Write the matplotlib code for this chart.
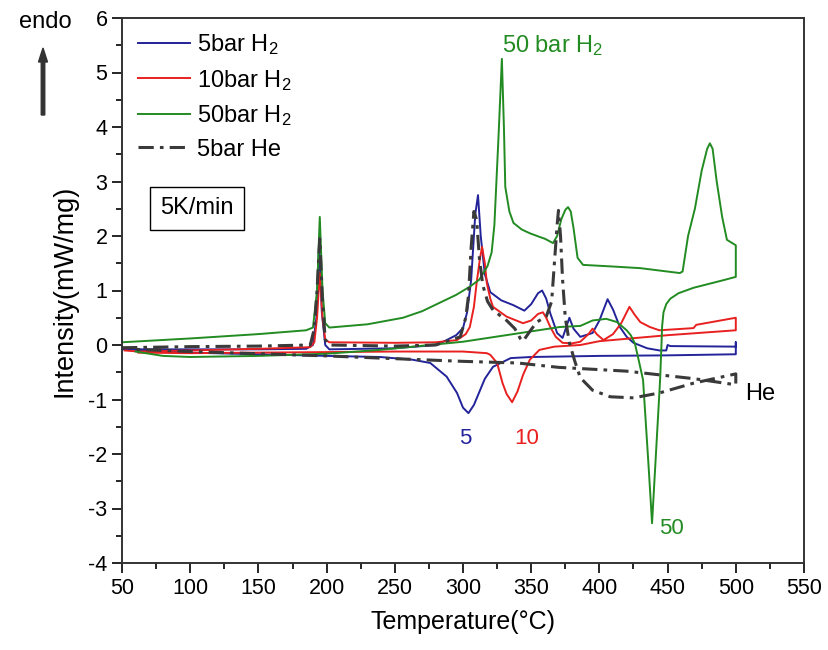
import matplotlib
matplotlib.use("Agg")
import matplotlib.pyplot as plt
from matplotlib import font_manager

names = {f.name for f in font_manager.fontManager.ttflist}
FONT = "Liberation Sans" if "Liberation Sans" in names else "DejaVu Sans"
plt.rcParams["font.family"] = [FONT, "DejaVu Sans"]
plt.rcParams["mathtext.fontset"] = "custom"
plt.rcParams["mathtext.rm"] = FONT
plt.rcParams["mathtext.it"] = FONT
plt.rcParams["mathtext.bf"] = FONT
plt.rcParams["axes.unicode_minus"] = False

# ---------------- data (Temperature °C, Intensity mW/mg) ----------------
# 5 bar H2 heating
b_heat_T = [50, 100, 150, 185, 190, 192.5, 194.5, 196.5, 199, 202, 250, 280, 288, 295, 300, 303, 306, 309, 311,
            313, 316, 320, 328, 337, 345, 350, 355, 358, 361, 364, 369, 373, 376, 378, 381, 386, 395, 400, 406,
            410, 415, 420, 425, 435, 444, 449, 450, 452, 500, 500]
b_heat_I = [-0.08, -0.08, -0.08, -0.07, 0.0, 0.5, 1.9, 0.6, 0.0, -0.08, -0.06, 0.0, 0.09, 0.18, 0.31, 0.6, 1.2,
            2.4, 2.75, 2.0, 1.3, 0.97, 0.82, 0.73, 0.63, 0.75, 0.95, 1.0, 0.85, 0.58, 0.22, 0.13, 0.35, 0.5, 0.3,
            0.15, 0.22, 0.45, 0.84, 0.65, 0.33, 0.15, 0.04, -0.06, -0.1, -0.1, 0.0, -0.02, -0.03, 0.05]
# 5 bar H2 cooling
b_cool_T = [500, 450, 400, 350, 335, 322, 316, 312.5, 308, 304, 300, 295.6, 288, 276, 263, 239, 200, 150, 100, 60]
b_cool_I = [-0.17, -0.19, -0.2, -0.22, -0.24, -0.4, -0.62, -0.83, -1.1, -1.25, -1.15, -0.88, -0.58, -0.33,
            -0.27, -0.22, -0.2, -0.17, -0.14, -0.1]

# 10 bar H2 heating
r_heat_T = [52, 62, 100, 150, 188, 191, 193, 195, 197, 199, 202, 250, 280, 295.6, 302, 305, 308, 310, 312.5, 314,
            316, 317.5, 320, 322, 332, 344, 350, 355, 358.6, 361, 364, 368, 373, 380, 386, 392, 395, 398, 403,
            410, 416, 422, 426, 430, 437, 444, 469, 471, 500, 500]
r_heat_I = [-0.1, -0.12, -0.1, -0.07, -0.04, 0.05, 0.5, 1.32, 0.5, 0.1, 0.05, 0.04, 0.05, 0.09, 0.2, 0.33, 0.7,
            1.14, 1.6, 1.8, 1.5, 1.13, 0.85, 0.7, 0.52, 0.4, 0.45, 0.57, 0.6, 0.5, 0.33, 0.15, 0.04, 0.03, 0.06,
            0.2, 0.3, 0.2, 0.09, 0.2, 0.4, 0.7, 0.55, 0.42, 0.33, 0.27, 0.31, 0.37, 0.5, 0.27]
# 10 bar H2 cooling
r_cool_T = [500, 450, 400, 386, 367, 356, 349, 344, 340, 336, 332, 329, 325, 320, 317.5, 300, 250, 200, 100, 62]
r_cool_I = [0.27, 0.18, 0.07, 0.0, -0.03, -0.09, -0.27, -0.55, -0.85, -1.05, -0.9, -0.7, -0.33, -0.18, -0.15,
            -0.12, -0.12, -0.13, -0.15, -0.14]

# 50 bar H2 heating
g_heat_T = [50, 100, 150, 185, 190, 193, 195, 197, 199, 202, 230, 256, 270, 285, 295, 305, 312, 318, 321, 323,
            326, 328.5, 330, 331, 334, 337, 343, 349, 356.5, 360, 366, 369, 372, 375, 377, 379, 381, 384, 388,
            410, 430, 459, 461, 465, 470, 475, 479, 481, 483, 486, 490, 493.5, 500, 500]
g_heat_I = [0.05, 0.12, 0.2, 0.27, 0.32, 1.0, 2.35, 1.0, 0.4, 0.32, 0.38, 0.5, 0.62, 0.8, 0.92, 1.07, 1.2, 1.45,
            1.7, 2.2, 3.8, 5.25, 4.0, 2.9, 2.45, 2.24, 2.12, 2.05, 1.98, 1.95, 1.87, 2.0, 2.3, 2.48, 2.53, 2.45,
            2.15, 1.6, 1.47, 1.44, 1.41, 1.32, 1.35, 2.0, 2.5, 3.2, 3.6, 3.7, 3.6, 3.0, 2.35, 1.93, 1.83, 1.25]
# 50 bar H2 cooling
g_cool_T = [500, 491, 480, 469, 458, 452, 449, 447, 446, 445.5, 444.5, 441, 438.6, 436, 432, 429, 426, 423, 420,
            413, 405, 395, 386, 371, 350, 300, 239, 200, 150, 100, 80, 60]
g_cool_I = [1.25, 1.19, 1.12, 1.05, 0.95, 0.85, 0.75, 0.6, 0.35, 0.0, -0.64, -2.2, -3.27, -2.2, -0.64, -0.3, 0.03,
            0.18, 0.27, 0.42, 0.48, 0.45, 0.35, 0.33, 0.25, 0.06, -0.09, -0.16, -0.2, -0.22, -0.2, -0.12]

# 5 bar He heating
k_heat_T = [50, 100, 150, 188, 191, 193, 195, 197, 199, 202, 250, 280, 298, 302, 304, 306, 308, 310, 312, 314.5,
            318, 322, 332, 338, 342, 344, 349, 354, 361, 365, 367, 369, 370, 371.5, 373, 375, 378, 382, 386, 395,
            408, 425, 444, 469, 500, 500]
k_heat_I = [-0.05, -0.03, -0.02, 0.0, 0.3, 1.0, 1.95, 0.8, 0.1, 0.0, -0.02, 0.0, 0.15, 0.5, 0.9, 1.8, 2.45, 2.3,
            1.6, 1.1, 0.8, 0.64, 0.45, 0.3, 0.12, 0.07, 0.25, 0.42, 0.52, 0.8, 1.5, 2.2, 2.47, 2.0, 1.2, 0.5, 0.04,
            -0.3, -0.6, -0.83, -0.95, -0.97, -0.88, -0.7, -0.53, -0.73]
# 5 bar He cooling
k_cool_T = [500, 470, 420, 370, 340, 300, 239, 200, 150, 100, 60]
k_cool_I = [-0.73, -0.62, -0.48, -0.41, -0.33, -0.3, -0.24, -0.2, -0.16, -0.12, -0.08]

labels = ["5bar H$_2$", "10bar H$_2$", "50bar H$_2$", "5bar He"]
x_ticks = [50, 100, 150, 200, 250, 300, 350, 400, 450, 500, 550]
y_ticks = [-4, -3, -2, -1, 0, 1, 2, 3, 4, 5, 6]

BLUE = "#23239a"
RED = "#e82020"
GREEN = "#228b22"
GRAY = "#3a3a3a"

fig = plt.figure(figsize=(8.29, 6.5), dpi=100)
ax = fig.add_axes([122 / 829, 1 - 563 / 650, (804 - 122) / 829, (563 - 18) / 650])

lw = 1.4
ax.plot(b_heat_T + b_cool_T, b_heat_I + b_cool_I, color=BLUE, lw=lw, label=labels[0])
ax.plot(r_heat_T + r_cool_T, r_heat_I + r_cool_I, color=RED, lw=lw, label=labels[1])
ax.plot(g_heat_T + g_cool_T, g_heat_I + g_cool_I, color=GREEN, lw=lw, label=labels[2])
ax.plot(k_heat_T + k_cool_T, k_heat_I + k_cool_I, color=GRAY, lw=2.2, ls=(0, (5, 2, 1.2, 2)),
        label=labels[3])

ax.set_xlim(50, 550)
ax.set_ylim(-4, 6)
ax.set_xticks(x_ticks)
ax.set_yticks(y_ticks)
ax.set_xticks([75 + 50 * i for i in range(10)], minor=True)
ax.set_yticks([-3.5 + i for i in range(10)], minor=True)
ax.tick_params(axis="both", which="major", direction="out", length=7, width=1.2, labelsize=15.5, top=False,
               right=False)
ax.tick_params(axis="both", which="minor", direction="out", length=4, width=1.2, top=False, right=False)
for s in ax.spines.values():
    s.set_linewidth(1.4)
    s.set_color("#333333")

ax.set_xlabel("Temperature(°C)", fontsize=18, labelpad=8)
ax.set_ylabel("Intensity(mW/mg)", fontsize=19.5, labelpad=8)

leg = ax.legend(loc="upper left", bbox_to_anchor=(0.003, 1.0), frameon=False, fontsize=17,
                handlelength=2.2, handletextpad=0.3, labelspacing=0.45, borderaxespad=0.2)

ax.text(105, 2.51, "5K/min", fontsize=17, ha="center", va="center",
        bbox=dict(boxstyle="square,pad=0.45", fc="white", ec="black", lw=1.0))

ax.text(328.6, 5.5, "50 bar H$_2$", color=GREEN, fontsize=17, ha="left", va="center")
ax.text(301.5, -1.72, "5", color=BLUE, fontsize=16, ha="center", va="center")
ax.text(347, -1.72, "10", color=RED, fontsize=16, ha="center", va="center")
ax.text(453, -3.36, "50", color=GREEN, fontsize=16, ha="center", va="center")
ax.text(507, -0.9, "He", color="black", fontsize=17, ha="left", va="center")

fig.text(45 / 829, 1 - 22 / 650, "endo", fontsize=17, ha="center", va="center")
fig.patches.append(matplotlib.patches.FancyArrow(
    43 / 829, 1 - 115 / 650, 0, (115 - 48) / 650, width=3.5 / 829, head_width=9 / 829, head_length=14 / 650,
    length_includes_head=True, color="#333333", transform=fig.transFigure, figure=fig))

fig.savefig("out.png", dpi=100)
